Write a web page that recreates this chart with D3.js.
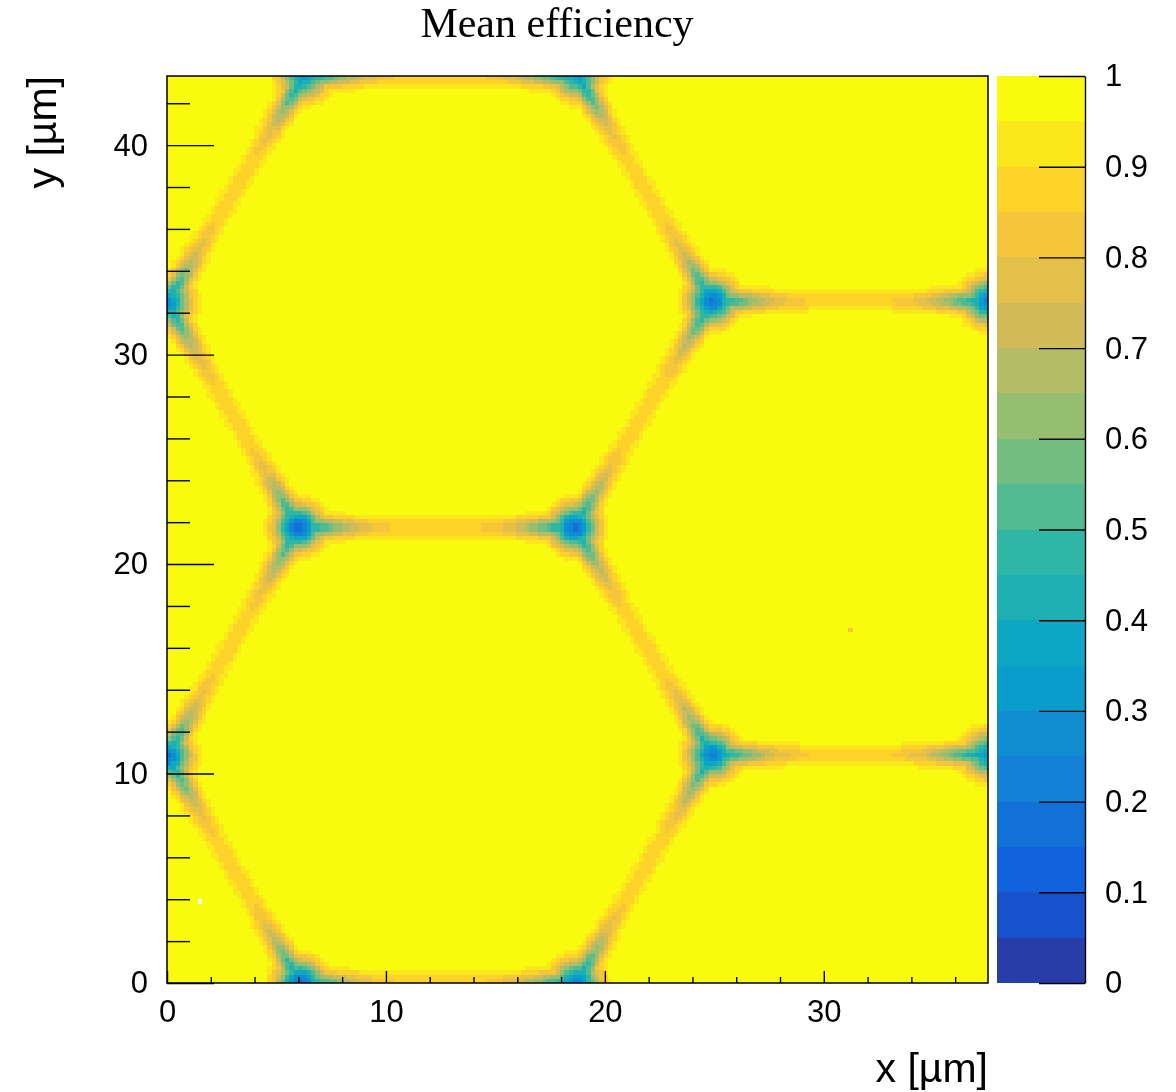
<!DOCTYPE html>
<html>
<head>
<meta charset="utf-8">
<script src="https://cdn.jsdelivr.net/npm/d3@7"></script>
<style>
  html, body { margin: 0; padding: 0; background: #fff; }
  #wrap { position: relative; width: 1176px; height: 1092px; }
  #wrap canvas, #wrap svg { position: absolute; left: 0; top: 0; }
  text { font-family: "Liberation Sans", Arial, Helvetica, sans-serif; fill: #000; }
</style>
</head>
<body>
<div id="wrap">
  <canvas id="cells" width="1176" height="1092"></canvas>
  <svg id="chart" width="1176" height="1092"></svg>
</div>
<script>
// ---- histogram binning (µm) ----
const xDomain = [0, 37.5];
const yDomain = [0, 43.3];
const nBinsX = 188;
const nBinsY = 217;

// ---- pixel-cell corners where three boundaries meet ----
const junctionX      = [0,      0,      6.1,  18.7, 6.0,   18.6,  6.25, 18.75, 24.9,   24.9,   37.5,   37.5];
const junctionY      = [10.825, 32.475, 0,    0,    21.75, 21.75, 43.3, 43.3,  10.9,   32.55,  10.9,   32.55];
const junctionMinEff = [0.14,   0.22,   0.12, 0.2,  0.1,   0.13,  0.3,  0.32,  0.18,   0.14,   0.28,   0.2];

// ---- cell boundaries [x1, y1, x2, y2] (µm) ----
const boundaries = [
  [0, 10.825, 6.1, 0],
  [0, 10.825, 6.0, 21.75],
  [0, 10.825, -12.5, 10.825],
  [0, 32.475, 6.0, 21.75],
  [0, 32.475, 6.25, 43.3],
  [0, 32.475, -12.5, 32.475],
  [6.1, 0, 18.7, 0],
  [6.1, 0, 0, -10.825],
  [18.7, 0, 24.9, 10.9],
  [18.7, 0, 25, -10.825],
  [6.0, 21.75, 18.6, 21.75],
  [18.6, 21.75, 24.9, 10.9],
  [18.6, 21.75, 24.9, 32.55],
  [6.25, 43.3, 18.75, 43.3],
  [6.25, 43.3, 0, 54.125],
  [18.75, 43.3, 24.9, 32.55],
  [18.75, 43.3, 25, 54.125],
  [24.9, 10.9, 37.5, 10.9],
  [24.9, 32.55, 37.5, 32.55],
  [37.5, 10.9, 43.75, 0],
  [37.5, 10.9, 43.75, 21.65],
  [37.5, 32.55, 43.75, 21.65],
  [37.5, 32.55, 43.75, 43.3]
];

// ---- efficiency profiles across a boundary and around a junction ----
const edgeOffset   = [0, 0.25, 0.5, 0.75, 1.0];     // µm from boundary
const edgeShape    = [1, 0.75, 0.35, 0.1, 0];       // share of the boundary loss
const armDistance  = [0, 1, 2, 3, 4.5];             // µm from nearest junction
const armEff       = [0.3, 0.45, 0.62, 0.76, 0.85]; // efficiency on the boundary line
const blobRadius   = [0, 0.4, 0.8, 1.2, 1.6, 2.0];  // µm from junction
const blobRecovery = [0, 0.2, 0.5, 0.78, 0.95, 1];

// ---- single bins ----
const emptyBins = [[1.4, 3.8]];
const singleBins = [[31.3, 16.8, 0.84]];

// ---- colour bar ----
const nContours = 20;
const colorTicks = [0, 0.1, 0.2, 0.3, 0.4, 0.5, 0.6, 0.7, 0.8, 0.9, 1];
const birdStops = [0.0, 0.125, 0.25, 0.375, 0.5, 0.625, 0.75, 0.875, 1.0];
const birdR = [0.2082, 0.0592, 0.0780, 0.0232, 0.1802, 0.5301, 0.8186, 0.9956, 0.9764];
const birdG = [0.1664, 0.3599, 0.5041, 0.6419, 0.7178, 0.7492, 0.7328, 0.7862, 0.9832];
const birdB = [0.5293, 0.8684, 0.8385, 0.7914, 0.6425, 0.4662, 0.3499, 0.1968, 0.0539];

// ---- axis ticks ----
const xMajor = [0, 10, 20, 30];
const xMinor = [2, 4, 6, 8, 12, 14, 16, 18, 22, 24, 26, 28, 32, 34, 36];
const yMajor = [0, 10, 20, 30, 40];
const yMinor = [2, 4, 6, 8, 12, 14, 16, 18, 22, 24, 26, 28, 32, 34, 36, 38, 42];

// ---- layout ----
const plot = { left: 167, right: 988, top: 76, bottom: 983 };
const bar = { left: 997, right: 1085 };
const tickFont = 31;
const titleFont = 41;

const x = d3.scaleLinear().domain(xDomain).range([plot.left, plot.right]);
const y = d3.scaleLinear().domain(yDomain).range([plot.bottom, plot.top]);
const z = d3.scaleLinear().domain([0, 1]).range([plot.bottom, plot.top]);

const bird = d3.scaleLinear()
  .domain(birdStops)
  .range(birdStops.map((s, i) => d3.rgb(birdR[i] * 255, birdG[i] * 255, birdB[i] * 255)))
  .interpolate(d3.interpolateRgb);
const bandColors = d3.range(nContours).map(i => bird(Math.floor((i + 0.99) * 255 / nContours) / 254));
const color = d3.scaleQuantize().domain([0, 1]).range(bandColors);

const interp = (xs, ys) => d3.scaleLinear().domain(xs).range(ys).clamp(true);
const edgeShapeAt = interp(edgeOffset, edgeShape);
const armEffAt = interp(armDistance, armEff);
const blobAt = interp(blobRadius, blobRecovery);

function segDist(px, py, s) {
  const [x1, y1, x2, y2] = s;
  const dx = x2 - x1, dy = y2 - y1;
  let t = ((px - x1) * dx + (py - y1) * dy) / (dx * dx + dy * dy);
  t = Math.max(0, Math.min(1, t));
  return Math.hypot(px - (x1 + t * dx), py - (y1 + t * dy));
}

function efficiency(px, py) {
  let dEdge = Infinity;
  for (const s of boundaries) dEdge = Math.min(dEdge, segDist(px, py, s));
  let rNear = Infinity, blob = 1;
  for (let j = 0; j < junctionX.length; j++) {
    const r = Math.hypot(px - junctionX[j], py - junctionY[j]);
    rNear = Math.min(rNear, r);
    blob = Math.min(blob, 1 - (1 - junctionMinEff[j]) * (1 - blobAt(r)));
  }
  const edge = 1 - (1 - armEffAt(rNear)) * edgeShapeAt(dEdge);
  return Math.min(edge, blob);
}

// ---- bin contents ----
const bw = (xDomain[1] - xDomain[0]) / nBinsX;
const bh = (yDomain[1] - yDomain[0]) / nBinsY;
const binIndex = (vx, vy) => [Math.floor((vx - xDomain[0]) / bw), Math.floor((vy - yDomain[0]) / bh)];
const emptySet = new Set(emptyBins.map(([a, b]) => binIndex(a, b).join(",")));
const singleMap = new Map(singleBins.map(([a, b, v]) => [binIndex(a, b).join(","), v]));

const bins = [];
for (let ix = 0; ix < nBinsX; ix++) {
  for (let iy = 0; iy < nBinsY; iy++) {
    const key = ix + "," + iy;
    if (emptySet.has(key)) continue;
    const cx = xDomain[0] + (ix + 0.5) * bw;
    const cy = yDomain[0] + (iy + 0.5) * bh;
    const v = singleMap.has(key) ? singleMap.get(key) : efficiency(cx, cy);
    bins.push({ x0: ix * bw, x1: (ix + 1) * bw, y0: iy * bh, y1: (iy + 1) * bh, v });
  }
}

// ---- draw the bins ----
const ctx = document.getElementById("cells").getContext("2d");
for (const b of bins) {
  const px0 = Math.round(x(b.x0)), px1 = Math.round(x(b.x1));
  const py0 = Math.round(y(b.y1)), py1 = Math.round(y(b.y0));
  ctx.fillStyle = color(b.v);
  ctx.fillRect(px0, py0, px1 - px0, py1 - py0);
}

const svg = d3.select("#chart");

// ---- colour bar bands ----
const bands = d3.range(nContours).map(i => ({ lo: i / nContours, hi: (i + 1) / nContours, c: bandColors[i] }));
svg.append("g").selectAll("rect").data(bands).join("rect")
  .attr("x", bar.left)
  .attr("width", bar.right - bar.left)
  .attr("y", d => z(d.hi))
  .attr("height", d => z(d.lo) - z(d.hi))
  .attr("fill", d => d.c)
  .attr("shape-rendering", "crispEdges");

// ---- frame ----
svg.append("rect")
  .attr("x", plot.left).attr("y", plot.top)
  .attr("width", plot.right - plot.left).attr("height", plot.bottom - plot.top)
  .attr("fill", "none").attr("stroke", "#000").attr("stroke-width", 1.5);

function styleAxis(g) {
  g.selectAll(".domain").remove();
  g.selectAll(".tick line").attr("stroke", "#000").attr("stroke-width", 1.4);
  g.selectAll(".tick text").attr("font-family", "Liberation Sans, Arial, sans-serif").attr("font-size", tickFont).attr("fill", "#000");
}

// x axis
svg.append("g").attr("transform", `translate(0,${plot.bottom})`)
  .call(d3.axisBottom(x).tickValues(xMajor).tickSize(-12).tickPadding(17).tickFormat(d3.format("d")))
  .call(styleAxis);
svg.append("g").attr("transform", `translate(0,${plot.bottom})`)
  .call(d3.axisBottom(x).tickValues(xMinor).tickSize(-6).tickFormat(""))
  .call(styleAxis);

// y axis
svg.append("g").attr("transform", `translate(${plot.left},0)`)
  .call(d3.axisLeft(y).tickValues(yMajor).tickSize(-47).tickPadding(19).tickFormat(d3.format("d")))
  .call(styleAxis);
svg.append("g").attr("transform", `translate(${plot.left},0)`)
  .call(d3.axisLeft(y).tickValues(yMinor).tickSize(-23).tickFormat(""))
  .call(styleAxis);

// colour bar axis
const zAxis = svg.append("g").attr("transform", `translate(${bar.right},0)`)
  .call(d3.axisRight(z).tickValues(colorTicks).tickSize(-46).tickSizeOuter(0).tickPadding(20).tickFormat(d3.format("~g")));
zAxis.select(".domain").attr("stroke", "#000").attr("stroke-width", 1.4);
zAxis.selectAll(".tick line").attr("stroke", "#000").attr("stroke-width", 1.4);
zAxis.selectAll(".tick text").attr("font-size", tickFont).attr("fill", "#000");

// ---- titles ----
svg.append("text")
  .attr("x", 557).attr("y", 37)
  .attr("text-anchor", "middle")
  .style("font-family", "'Liberation Serif', 'Times New Roman', serif")
  .attr("font-size", 42)
  .text("Mean efficiency");

svg.append("text")
  .attr("x", plot.right).attr("y", 1082)
  .attr("text-anchor", "end")
  .attr("font-size", titleFont)
  .text("x [µm]");

svg.append("text")
  .attr("transform", `translate(56,${plot.top}) rotate(-90)`)
  .attr("text-anchor", "end")
  .attr("font-size", titleFont)
  .text("y [µm]");
</script>
</body>
</html>
